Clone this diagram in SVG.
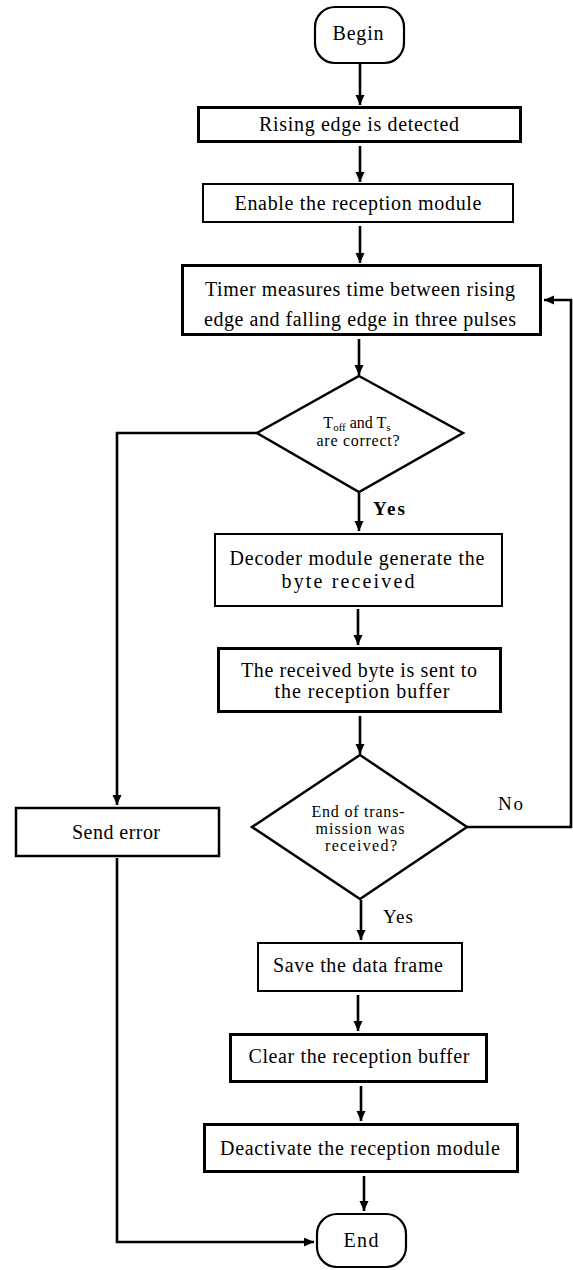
<svg xmlns="http://www.w3.org/2000/svg" width="573" height="1270" viewBox="0 0 573 1270">
<style>
  .bg{fill:#ffffff}
  .box{fill:#ffffff;stroke:#000000}
  .thick{stroke-width:3}
  .thin{stroke-width:2}
  .term{fill:#ffffff;stroke:#000000;stroke-width:2.2}
  .dia{fill:#ffffff;stroke:#000000;stroke-width:2.5;stroke-linejoin:miter}
  .conn{fill:none;stroke:#000000;stroke-width:2.6}
  .t{font-family:"Liberation Serif","Times New Roman",serif;font-size:20px;fill:#000000;text-anchor:middle}
  .s{font-family:"Liberation Serif","Times New Roman",serif;font-size:16px;fill:#000000;text-anchor:middle}
  .lbl{font-family:"Liberation Serif","Times New Roman",serif;font-size:19px;fill:#000000}
</style>
<defs>
  <marker id="arr" markerUnits="userSpaceOnUse" markerWidth="11" markerHeight="10" refX="10" refY="4.5" orient="auto">
    <path d="M0,0 L10,4.5 L0,9 z" fill="#000000"/>
  </marker>
</defs>
<rect class="bg" x="0" y="0" width="573" height="1270"/>

<g id="connectors">
  <path class="conn" d="M360,64 V105" marker-end="url(#arr)"/>
  <path class="conn" d="M360,146 V182" marker-end="url(#arr)"/>
  <path class="conn" d="M360,226 V263" marker-end="url(#arr)"/>
  <path class="conn" d="M359,339 V375" marker-end="url(#arr)"/>
  <path class="conn" d="M359,493 V531" marker-end="url(#arr)"/>
  <path class="conn" d="M358,609 V645" marker-end="url(#arr)"/>
  <path class="conn" d="M360,716 V754" marker-end="url(#arr)"/>
  <path class="conn" d="M361,900 V940" marker-end="url(#arr)"/>
  <path class="conn" d="M358,995 V1031" marker-end="url(#arr)"/>
  <path class="conn" d="M361,1086 V1121" marker-end="url(#arr)"/>
  <path class="conn" d="M364,1176 V1211" marker-end="url(#arr)"/>
  <path class="conn" d="M257,433 H117 V805" marker-end="url(#arr)"/>
  <path class="conn" d="M117,858 V1242 H314" marker-end="url(#arr)"/>
  <path class="conn" d="M467,827 H571 V300 H544" marker-end="url(#arr)"/>
  <text class="lbl" x="373" y="515" font-weight="bold" textLength="32" lengthAdjust="spacing">Yes</text>
  <text class="lbl" x="498" y="810" textLength="25" lengthAdjust="spacing">No</text>
  <text class="lbl" x="383" y="923" textLength="30" lengthAdjust="spacing">Yes</text>
</g>

<g id="begin">
  <rect class="term" x="315" y="7" width="89" height="56" rx="20" ry="20"/>
  <text class="t" x="358" y="40" textLength="51" lengthAdjust="spacing">Begin</text>
</g>

<g id="rising">
  <rect class="box thick" x="198.5" y="107.5" width="322" height="34"/>
  <text class="t" x="359" y="131" textLength="200" lengthAdjust="spacing">Rising edge is detected</text>
</g>

<g id="enable">
  <rect class="box thin" x="203" y="184" width="310" height="38"/>
  <text class="t" x="358" y="210" textLength="247" lengthAdjust="spacing">Enable the reception module</text>
</g>

<g id="timer">
  <rect class="box thick" x="182.5" y="265.5" width="358" height="69"/>
  <text class="t" x="360" y="296" textLength="310" lengthAdjust="spacing">Timer measures time between rising</text>
  <text class="t" x="360" y="326" textLength="312" lengthAdjust="spacing">edge and falling edge in three pulses</text>
</g>

<g id="check-timing">
  <polygon class="dia" points="359,376 463,433 359,492 257,433"/>
  <text class="s" x="357" y="428">T<tspan font-size="11" dy="3">off</tspan><tspan dy="-3"> and T</tspan><tspan font-size="11" dy="3">s</tspan></text>
  <text class="s" x="358" y="446" textLength="83" lengthAdjust="spacing">are correct?</text>
</g>

<g id="decoder">
  <rect class="box thin" x="215" y="534" width="287" height="72"/>
  <text class="t" x="357" y="565" textLength="255" lengthAdjust="spacing">Decoder module generate the</text>
  <text class="t" x="348" y="588" textLength="133" lengthAdjust="spacing">byte received</text>
</g>

<g id="received">
  <rect class="box thick" x="218.5" y="648.5" width="282" height="63"/>
  <text class="t" x="359" y="677" textLength="236" lengthAdjust="spacing">The received byte is sent to</text>
  <text class="t" x="362" y="698" textLength="175" lengthAdjust="spacing">the reception buffer</text>
</g>

<g id="end-check">
  <polygon class="dia" points="360,755 467,827 360,899 252,827"/>
  <text class="s" x="358" y="817" textLength="93" lengthAdjust="spacing">End of trans-</text>
  <text class="s" x="360" y="834" textLength="89" lengthAdjust="spacing">mission was</text>
  <text class="s" x="361" y="851" textLength="72" lengthAdjust="spacing">received?</text>
</g>

<g id="send-error">
  <rect class="box" stroke-width="2.5" x="16" y="808" width="203" height="48"/>
  <text class="t" x="116" y="839" textLength="88" lengthAdjust="spacing">Send error</text>
</g>

<g id="save">
  <rect class="box thin" x="258" y="943" width="204" height="48"/>
  <text class="t" x="358" y="972" textLength="170" lengthAdjust="spacing">Save the data frame</text>
</g>

<g id="clear">
  <rect class="box thick" x="230.5" y="1034.5" width="256" height="47"/>
  <text class="t" x="359" y="1063" textLength="221" lengthAdjust="spacing">Clear the reception buffer</text>
</g>

<g id="deactivate">
  <rect class="box thick" x="204.5" y="1124.5" width="313" height="47"/>
  <text class="t" x="360" y="1155" textLength="280" lengthAdjust="spacing">Deactivate the reception module</text>
</g>

<g id="end">
  <rect class="term" x="317" y="1214" width="89" height="53" rx="20" ry="20"/>
  <text class="t" x="361" y="1247" textLength="35" lengthAdjust="spacing">End</text>
</g>
</svg>
